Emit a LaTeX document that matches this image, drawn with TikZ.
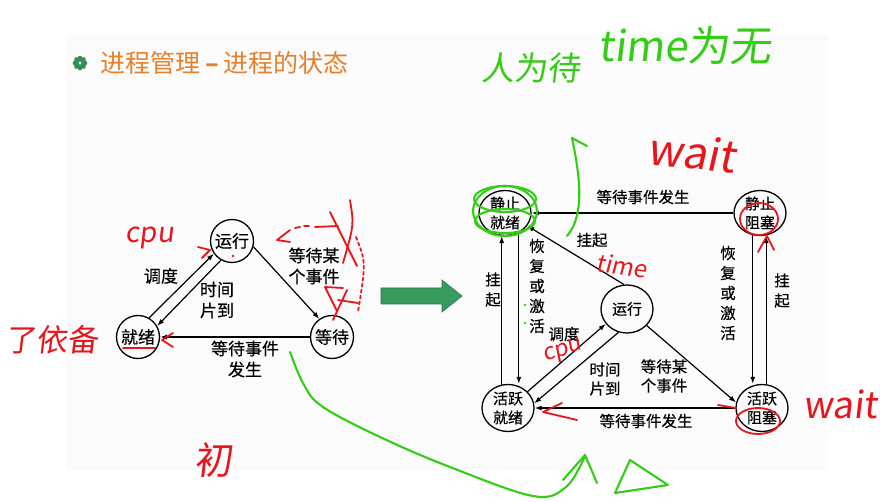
\documentclass[tikz,border=0pt]{standalone}
\usepackage{fontspec}
\setmainfont{Noto Sans CJK SC}
\newfontfamily\hand[FakeSlant=0.12]{Noto Sans CJK SC}
\newfontfamily\lab[FakeBold=0.35]{Noto Sans CJK SC}
\usetikzlibrary{arrows.meta,calc,shapes.geometric}
\definecolor{ttl}{RGB}{232,128,42}
\definecolor{hgreen}{RGB}{52,205,22}
\definecolor{hred}{RGB}{232,22,28}
\definecolor{bigarrow}{RGB}{58,155,95}
\begin{document}
\begin{tikzpicture}[x=1pt,y=-1pt,
  st/.style={circle,draw,line width=1.3pt,minimum size=43pt,inner sep=0pt,font=\lab\fontsize{17}{20}\selectfont},
  st2/.style={ellipse,draw,line width=1.3pt,minimum width=52pt,minimum height=45pt,inner sep=-6pt,font=\lab\fontsize{15}{19}\selectfont,align=center},
  arr/.style={line width=1.2pt,-{Latex[length=7pt,width=5pt]}},
  lbl/.style={font=\lab\fontsize{17}{21}\selectfont,align=center,inner sep=0pt},
  lbl2/.style={font=\lab\fontsize{15.5}{19}\selectfont,align=center,inner sep=0pt},
  vlbl/.style={font=\lab\fontsize{15.5}{20}\selectfont,align=center,inner sep=0pt},
  hw/.style={line width=2.1pt,line cap=round,line join=round},
  hwt/.style={font=\hand,inner sep=0pt},
]
\useasboundingbox (0,0) rectangle (880,502);
\fill[white] (0,0) rectangle (880,502);
\fill[gray!3] (66,35) rectangle (828,470);

% title
\foreach \a in {0,45,...,315} \fill[bigarrow!90!black] (80,63) ++(\a:5) circle (2.3);
\fill[bigarrow!90!black] (80,63) circle (4);
\fill[white] (80,63) circle (1.6);
\node[anchor=west,text=ttl,font=\fontsize{25}{30}\selectfont,inner sep=0pt] (title) at (100,63) {进程管理\hspace{5pt}\textbf{–}\hspace{5pt}进程的状态};

% left diagram
\node[st] (yx) at (232,241) {运行};
\node[st] (jx) at (138,337) {就绪};
\node[st] (dd) at (332,337) {等待};
\draw[arr] (jx.60) -- (yx.215);
\draw[arr] (yx.240) -- (jx.30);
\draw[arr] (yx.-15) -- (dd.125);
\draw[arr] (dd.180) -- (jx.0);
\node[lbl] (l1) at (161,276) {调度};
\node[lbl] (l2) at (217,300) {时间\\片到};
\node[lbl] (l3) at (314,266) {等待某\\个事件};
\node[lbl] (l4) at (245,359) {等待事件\\发生};

% big arrow
\filldraw[fill=bigarrow,draw=bigarrow!75!black,line width=0.6pt] (381,288) -- (442,288) -- (442,280) -- (462,296) -- (442,312) -- (442,304) -- (381,304) -- cycle;

% right diagram
\node[st2] (jz) at (505,213) {静止\\就绪};
\node[st2] (zs) at (760,213) {静止\\阻塞};
\node[st2,minimum height=48pt] (yx2) at (627,309) {运行};
\node[st2,minimum height=47pt] (hj) at (508,408) {活跃\\就绪};
\node[st2,minimum height=47pt] (hz) at (762,408) {活跃\\阻塞};
\draw[arr] (zs.180) -- (jz.0);
\draw[arr] (hz.180) -- (hj.0);
\draw[arr] (yx2.97) -- (jz.-30);
\draw[arr] (hj.105) -- (hj.105 |- jz.south);
\draw[arr] (jz.-55) -- (jz.-55 |- hj.north);
\draw[arr] (zs.-108) -- (zs.-108 |- hz.north);
\draw[arr] (hz.80) -- (hz.80 |- zs.south);
\draw[arr] (hj.40) -- (yx2.215);
\draw[arr] (yx2.250) -- (hj.10);
\draw[arr] (yx2.-40) -- (hz.168);
\node[lbl2] (r1) at (643,197) {等待事件发生};
\node[lbl2] (r2) at (592,240) {挂起};
\node[vlbl] (r3) at (493,289.5) {挂\\起};
\node[vlbl] (r4) at (537,286) {恢\\复\\或\\激\\活};
\node[vlbl] (r5) at (728,293) {恢\\复\\或\\激\\活};
\node[vlbl] (r6) at (782,290.5) {挂\\起};
\node[lbl2] (r7) at (564,334) {调度};
\node[lbl2] (r8) at (605,379) {时间\\片到};
\node[lbl2] (r9) at (664,376) {等待某\\个事件};
\node[lbl2] (r10) at (646,421) {等待事件发生};

% green handwriting
\node[hwt,text=hgreen,font=\hand\fontsize{33}{33}\selectfont] (g1) at (531,68) {人为待};
\node[hwt,text=hgreen,font=\hand\fontsize{42}{42}\selectfont,anchor=west] (g2) at (598,46) {time为无};
\draw[hw,hgreen] (567,236) .. controls (586,214) and (579,172) .. (572,138);
\draw[hw,hgreen] (572,138) -- (587,146);
\draw[hw,hgreen] (505,199) ellipse (31 and 13);
\draw[hw,hgreen] (505,221) ellipse (30 and 12);
\draw[hw,hgreen] (505,211) ellipse (32 and 25);
\draw[hw,hgreen] plot[smooth,tension=0.6] coordinates {(290,352) (304,385) (323,407) (380,437) (450,467) (533,496) (566,487) (585,456)};
\draw[hw,hgreen] (563,480) -- (585,455) -- (597,483);
\draw[hw,hgreen] (630,460) -- (615,493) -- (668,485) -- cycle;
\fill[hgreen] (525,305) circle (1.3);
\fill[hgreen] (525,323) circle (1.3);

% red handwriting
\node[hwt,text=hred,font=\hand\fontsize{28}{28}\selectfont] (c1) at (150,238) {cpu};
\node[hwt,text=hred,font=\hand\fontsize{31}{31}\selectfont] (c2) at (52,340) {了依备};
\node[hwt,text=hred,font=\hand\fontsize{38}{38}\selectfont] (c3) at (213,460) {初};
\node[hwt,text=hred,font=\hand\fontsize{24}{24}\selectfont,rotate=-8] (c4) at (622,266) {time};
\node[hwt,text=hred,font=\hand\fontsize{44}{44}\selectfont,rotate=-6] (c5) at (692,152) {wait};
\node[hwt,text=hred,font=\hand\fontsize{37}{37}\selectfont,anchor=west] (c6) at (803,404) {wait};
\node[hwt,text=hred,font=\hand\fontsize{23}{23}\selectfont,rotate=18] (c7) at (563,352) {cpu};
\draw[hw,hred,line width=1.8pt] (198,247) -- (210,250) -- (202,258);
\fill[hred] (233,256) circle (1.4);
\draw[hw,hred,line width=1.8pt] (290,230) -- (277,240) -- (290,242);
\draw[hw,hred,line width=1.8pt] (295,228) -- (300,227) (304,226) -- (309,226);
\draw[hw,hred,line width=1.8pt] (315,227) -- (338,226);
\draw[hw,hred,line width=1.8pt] (330,212) -- (357,266);
\draw[hw,hred,line width=1.8pt] (350,200) .. controls (354,225) .. (343,263);
\draw[hw,hred,line width=1.8pt,dashed] (356,237) .. controls (366,262) .. (358,312);
\draw[hw,hred,line width=1.8pt] (343,288) -- (325,287) -- (337,311);
\draw[hw,hred,line width=1.8pt] (347,290) -- (333,320) (338,300) -- (358,303);
\draw[hw,hred,line width=2pt] (123,348) -- (155,348);
\draw[hw,hred,line width=1.8pt] (173,333) -- (162,340) -- (173,347);
\draw[hw,hred,line width=1.8pt] (759,219) ellipse (19 and 16);
\draw[hw,hred,line width=1.8pt] (758,252) -- (767,236) -- (774,250);
\draw[hw,hred,line width=1.8pt] (562,403) -- (543,412) -- (577,420);
\draw[hw,hred,line width=1.8pt] (718,405) -- (736,408);
\draw[hw,hred,line width=1.8pt] (758,421) ellipse (22 and 13);
\end{tikzpicture}
\end{document}
